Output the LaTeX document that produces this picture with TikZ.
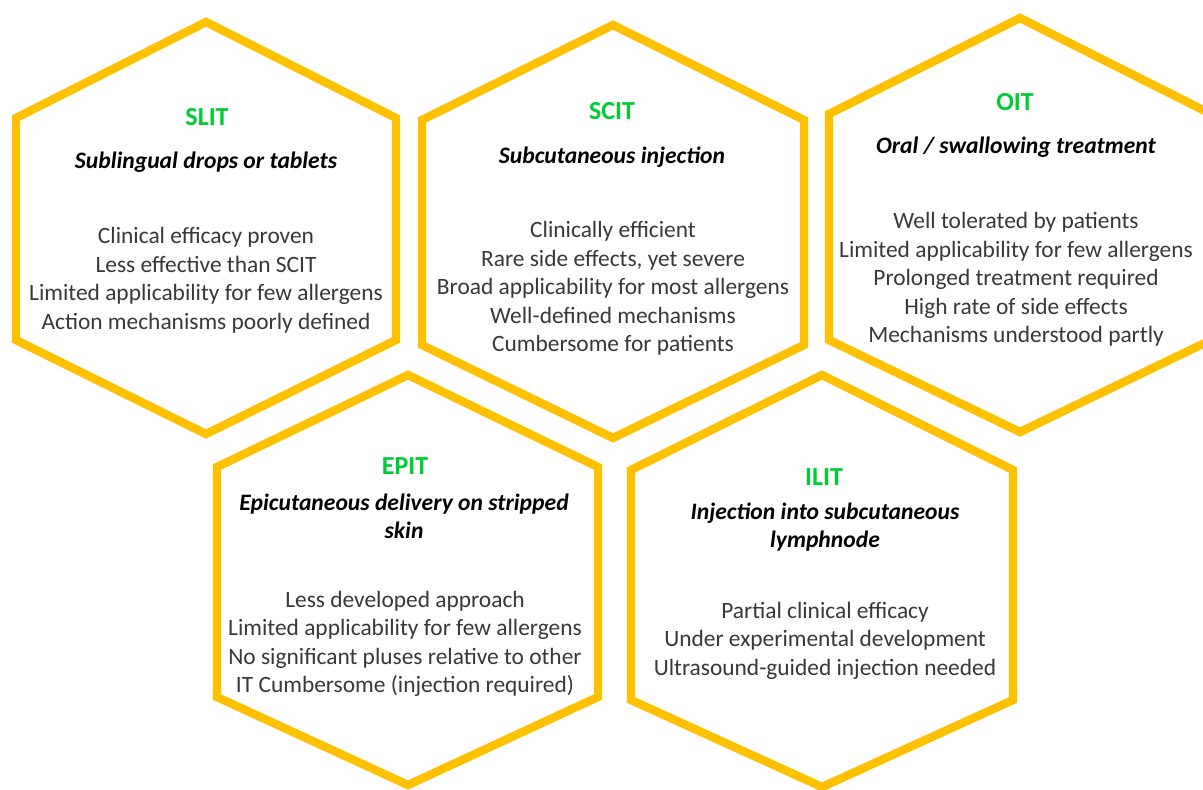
\documentclass[tikz,border=0pt]{standalone}
\usepackage{fontspec}
\setmainfont{Carlito}
\definecolor{hexgold}{RGB}{255,192,0}
\definecolor{titlegreen}{RGB}{0,204,51}
\definecolor{bodygrey}{RGB}{56,56,56}
\begin{document}
\begin{tikzpicture}[x=0.5pt,y=-0.5pt,
  hexline/.style={draw=hexgold,line width=4.2pt,line join=miter},
  ttl/.style={font=\fontsize{13}{15}\selectfont\bfseries,text=titlegreen,inner sep=0pt},
  subt/.style={font=\fontsize{11.8}{14}\selectfont\bfseries\itshape,align=center,inner sep=0pt},
  body/.style={font=\fontsize{11.7}{14.25}\selectfont,text=bodygrey,align=center,inner sep=0pt}]
\useasboundingbox (0,0) rectangle (1203,789);
\fill[white] (0,0) rectangle (1203,789);
\clip (0,0) rectangle (1203,789);

% honeycomb cells
\draw[hexline] (206,22) -- (396,118) -- (396,340) -- (206,434) -- (16,340) -- (16,118) -- cycle;
\draw[hexline] (613,25) -- (804,120) -- (804,345) -- (613,438) -- (422,345) -- (422,120) -- cycle;
\draw[hexline] (1020,18) -- (1211,114) -- (1211,340) -- (1020,432) -- (829,340) -- (829,114) -- cycle;
\draw[hexline] (408,375) -- (598,467) -- (598,697) -- (408,785) -- (217,697) -- (217,467) -- cycle;
\draw[hexline] (822,375) -- (1013,470) -- (1013,700) -- (822,787) -- (631,700) -- (631,470) -- cycle;

% SLIT
\node[ttl]  (slitT) at (207,117) {SLIT};
\node[subt] (slitS) at (206,162) {Sublingual drops or tablets};
\node[body] (slitB) at (206,280) {Clinical efficacy proven\\Less effective than SCIT\\Limited applicability for few allergens\\Action mechanisms poorly defined};

% SCIT
\node[ttl]  (scitT) at (612,111) {SCIT};
\node[subt] (scitS) at (612,157) {Subcutaneous injection};
\node[body] (scitB) at (613,288.5) {Clinically efficient\\Rare side effects, yet severe\\Broad applicability for most allergens\\Well-defined mechanisms\\Cumbersome for patients};

% OIT
\node[ttl]  (oitT) at (1015,102) {OIT};
\node[subt] (oitS) at (1016,147) {Oral / swallowing treatment};
\node[body] (oitB) at (1016,279.5) {Well tolerated by patients\\Limited applicability for few allergens\\Prolonged treatment required\\High rate of side effects\\Mechanisms understood partly};

% EPIT
\node[ttl]  (epitT) at (405,466) {EPIT};
\node[subt] (epitS) at (404,516) {Epicutaneous delivery on stripped\\skin};
\node[body] (epitB) at (405,644) {Less developed approach\\Limited applicability for few allergens\\No significant pluses relative to other\\IT Cumbersome (injection required)};

% ILIT
\node[ttl]  (ilitT) at (824,477) {ILIT};
\node[subt] (ilitS) at (825,527.5) {Injection into subcutaneous\\lymphnode};
\node[body] (ilitB) at (825,640.5) {Partial clinical efficacy\\Under experimental development\\Ultrasound-guided injection needed};
\end{tikzpicture}
\end{document}
